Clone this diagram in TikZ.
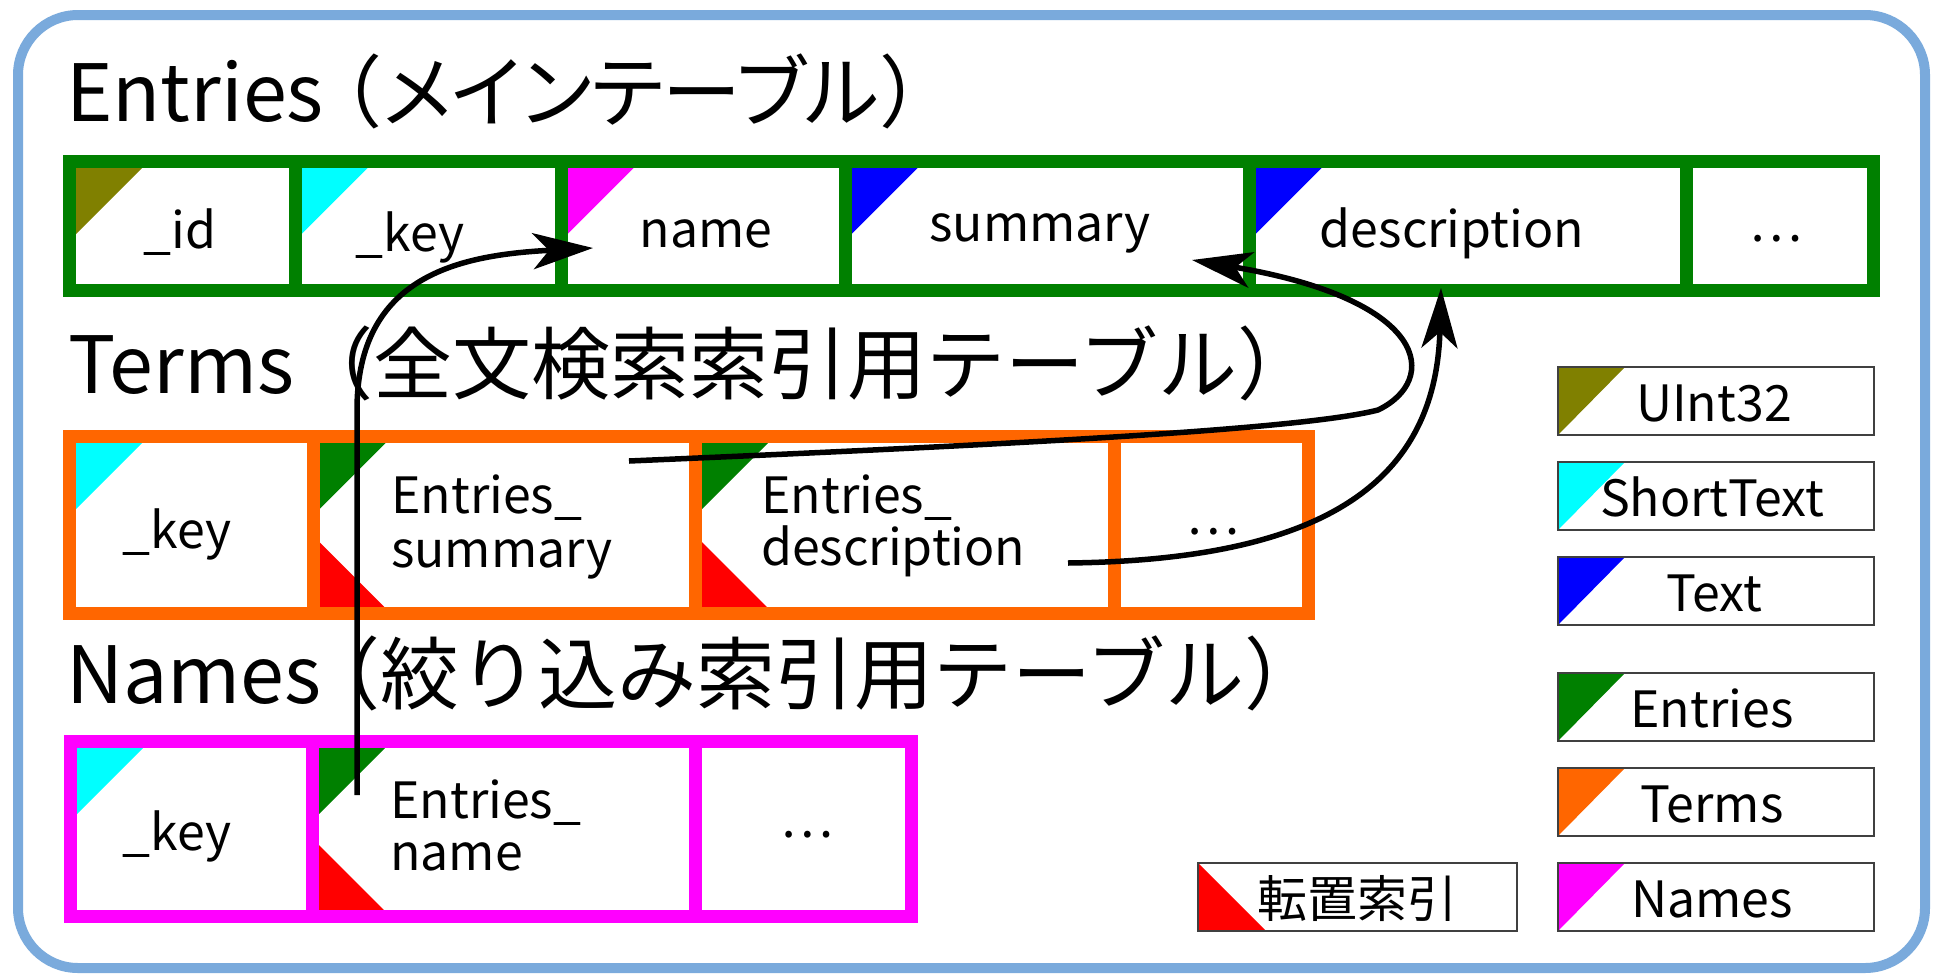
\documentclass[tikz,border=0pt]{standalone}
\usepackage{fontspec}
\setmainfont{Noto Sans CJK JP}
\usetikzlibrary{arrows.meta}
\definecolor{framec}{HTML}{7AAADC}
\definecolor{olivec}{HTML}{808000}
\definecolor{cyanc}{HTML}{00FFFF}
\definecolor{magc}{HTML}{FF00FF}
\definecolor{bluec}{HTML}{0000FF}
\definecolor{greenc}{HTML}{008000}
\definecolor{orangec}{HTML}{FF6600}
\definecolor{redc}{HTML}{FF0000}
\newcommand\tritl[3]{\fill[#3] (#1,#2) -- ++(66,0) -- ++(-66,66) -- cycle;}
\newcommand\tribl[3]{\fill[#3] (#1,#2) -- ++(65,0) -- ++(-65,-65) -- cycle;}
\newcommand\legtri[3]{\fill[#3] (#1,#2) -- ++(67,0) -- ++(-67,68) -- cycle;}
\newcommand\pkana[1]{{\addfontfeatures{RawFeature=+palt}#1}}
\tikzset{
  titletext/.style={anchor=base west, inner sep=0pt, font=\fontsize{79}{95}\selectfont},
  ctext/.style={anchor=base, inner sep=0pt, font=\fontsize{50}{60}\selectfont},
  ltext/.style={anchor=base west, inner sep=0pt, font=\fontsize{50}{60}\selectfont},
  legtext/.style={anchor=base, inner sep=0pt, font=\fontsize{50}{60}\selectfont},
  enttab/.style={draw=greenc, line width=13pt},
  termtab/.style={draw=orangec, line width=13pt},
  nametab/.style={draw=magc, line width=13pt},
  legbox/.style={draw=black!75, line width=2.5pt},
  link/.style={line width=5.5pt, -{Stealth[length=60pt,width=36pt,inset=16pt]}},
}
\begin{document}
\begin{tikzpicture}[x=1pt,y=-1pt]
\useasboundingbox (0,0) rectangle (1936,975);
\fill[white] (0,0) rectangle (1936,975);
% outer frame
\draw[framec, line width=10pt, rounded corners=60pt] (18,15) rectangle (1925,968);

% titles
\node[titletext] (tEntries) at (66,121) {Entries\kern-20pt（\pkana{メインテーブル}）};
\node[titletext] (tTerms) at (68,393) {Terms（全文検索索引用テーブル）};
\node[titletext] (tNames) at (66,703) {Names\kern-20pt（絞り込み索引用テーブル）};

% Entries table
\tritl{76}{168}{olivec}
\tritl{301.5}{168}{cyanc}
\tritl{567.5}{168}{magc}
\tritl{851.5}{168}{bluec}
\tritl{1255.5}{168}{bluec}
\foreach \a/\b in {69.5/295,295/561,561/845,845/1249,1249/1686,1686/1873.5}
  \draw[enttab] (\a,161.5) rectangle (\b,290.5);

% Terms table
\tritl{76}{443}{cyanc}
\tritl{319.5}{443}{greenc}
\tribl{319.5}{607}{redc}
\tritl{702}{443}{greenc}
\tribl{702}{607}{redc}
\foreach \a/\b in {69.5/313,313/695.5,695.5/1114,1114/1308.5}
  \draw[termtab] (\a,436.5) rectangle (\b,613.5);

% Names table
\tritl{77}{748}{cyanc}
\tritl{319}{748}{greenc}
\tribl{319}{910}{redc}
\foreach \a/\b in {70.5/312.5,312.5/695.5,695.5/911.5}
  \draw[nametab] (\a,741.5) rectangle (\b,916.5);

% cell texts: Entries
\node[ctext] (eId) at (180,248) {\_id};
\node[ctext] (eKey) at (410,251) {\_key};
\node[ctext] (eName) at (706,247) {name};
\node[ctext] (eSum) at (1040,241) {summary};
\node[ctext] (eDesc) at (1452,247) {description};
\node[ctext] (eMore) at (1776,241) {…};

% cell texts: Terms
\node[ctext] (tKey) at (177,548) {\_key};
\node[ltext] (tSumA) at (391,513) {Entries\_};
\node[ltext] (tSumB) at (391,567) {summary};
\node[ltext] (tDescA) at (761,513) {Entries\_};
\node[ltext] (tDescB) at (761,565) {description};
\node[ctext] (tMore) at (1213,534) {…};

% cell texts: Names
\node[ctext] (nKey) at (177,850) {\_key};
\node[ltext] (nNameA) at (390,818) {Entries\_};
\node[ltext] (nNameB) at (390,870) {name};
\node[ctext] (nMore) at (807,837) {…};

% legend
\legtri{1558}{367}{olivec}
\draw[legbox] (1558,367) rectangle (1874,435);
\node[legtext] (lU) at (1714,421) {UInt32};
\legtri{1558}{462}{cyanc}
\draw[legbox] (1558,462) rectangle (1874,530);
\node[legtext] (lS) at (1712,516) {ShortText};
\legtri{1558}{557}{bluec}
\draw[legbox] (1558,557) rectangle (1874,625);
\node[legtext] (lT) at (1714,611) {Text};
\legtri{1558}{673}{greenc}
\draw[legbox] (1558,673) rectangle (1874,741);
\node[legtext] (lE) at (1712,727) {Entries};
\legtri{1558}{768}{orangec}
\draw[legbox] (1558,768) rectangle (1874,836);
\node[legtext] (lTe) at (1712,822) {Terms};
\legtri{1558}{863}{magc}
\draw[legbox] (1558,863) rectangle (1874,931);
\node[legtext] (lN) at (1712,917) {Names};
\fill[redc] (1198,863) -- (1198,931) -- (1266,931) -- cycle;
\draw[legbox] (1198,863) rectangle (1517,931);
\node[legtext] (lInv) at (1357,917) {転置索引};

% links
\coordinate (nameFrom) at (357,795);
\coordinate (nameTo) at (593,248);
\draw[link] (nameFrom) -- (357,410) .. controls (357,275) and (460,255) .. (nameTo);
\coordinate (sumFrom) at (629,461);
\coordinate (sumMid) at (1378,410);
\coordinate (sumTo) at (1192,260);
\draw[link] (sumFrom) .. controls (1000,445) and (1300,430) .. (sumMid)
  .. controls (1440,380) and (1430,300) .. (sumTo);
\coordinate (descFrom) at (1068,563);
\coordinate (descTo) at (1441,288);
\draw[link] (descFrom) .. controls (1320,560) and (1436,485) .. (descTo);
\end{tikzpicture}
\end{document}
